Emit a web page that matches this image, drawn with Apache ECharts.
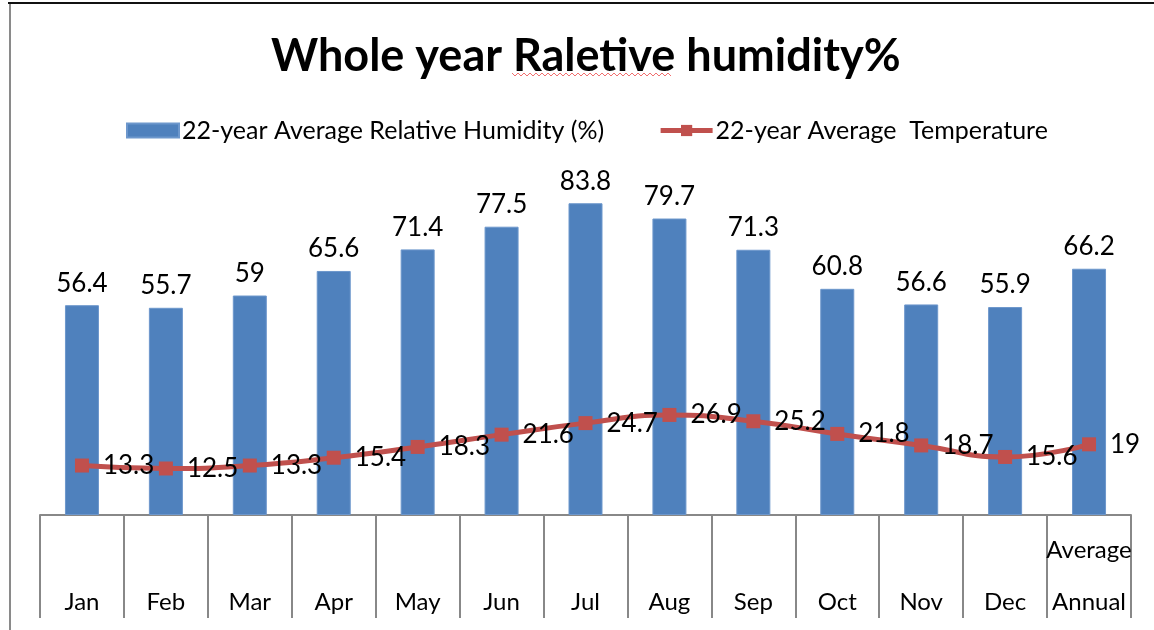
<!DOCTYPE html>
<html>
<head>
<meta charset="utf-8">
<script src="https://cdn.jsdelivr.net/npm/echarts@6/dist/echarts.min.js"></script>
<style>
  html, body { margin: 0; padding: 0; background: #fff; }
  #chart { width: 1154px; height: 630px; }
</style>
</head>
<body>
<div id="chart"></div>
<script>
var months = ['Jan', 'Feb', 'Mar', 'Apr', 'May', 'Jun', 'Jul', 'Aug', 'Sep', 'Oct', 'Nov', 'Dec', 'Average\nAnnual'];
var humidity = [56.4, 55.7, 59, 65.6, 71.4, 77.5, 83.8, 79.7, 71.3, 60.8, 56.6, 55.9, 66.2];
var temperature = [13.3, 12.5, 13.3, 15.4, 18.3, 21.6, 24.7, 26.9, 25.2, 21.8, 18.7, 15.6, 19];

var font = 'Lato, "Open Sans", sans-serif';

// wavy spell-check underline under "Raletive"
var wave = [];
for (var x = 512; x <= 671; x += 3) {
  wave.push([x, (x - 512) % 6 === 0 ? 73 : 76]);
}

var chart = echarts.init(document.getElementById('chart'));
chart.setOption({
  animation: false,
  title: {
    text: 'Whole year Raletive humidity%',
    left: 266,
    top: 29,
    textStyle: { fontFamily: font, fontSize: 45, fontWeight: 'bold', color: '#000' }
  },
  legend: {
    top: 113,
    left: 121,
    itemWidth: 52,
    itemHeight: 14,
    itemGap: 54,
    textStyle: { fontFamily: font, fontSize: 25, color: '#000', padding: [0, 0, 0, -2] },
    data: [
      { name: '22-year Average Relative Humidity (%)', icon: 'rect' },
      { name: '22-year Average  Temperature', lineStyle: { width: 5 } }
    ]
  },
  grid: { left: 40, right: 23, top: 143, bottom: 115 },
  xAxis: {
    type: 'category',
    data: months,
    boundaryGap: true,
    axisLine: { lineStyle: { color: '#888', width: 2 } },
    axisTick: { show: true, interval: 0, length: 103, lineStyle: { color: '#888', width: 2 } },
    axisLabel: {
      interval: 0,
      margin: 113,
      verticalAlign: 'bottom',
      lineHeight: 52,
      fontFamily: font,
      fontSize: 24,
      color: '#000'
    }
  },
  yAxis: {
    type: 'value',
    min: 0,
    max: 100,
    show: false,
    splitLine: { show: false }
  },
  graphic: [
    { type: 'line', shape: { x1: 8, y1: 3, x2: 1154, y2: 3 }, style: { stroke: '#111', lineWidth: 2 } },
    { type: 'line', shape: { x1: 10, y1: 4, x2: 10, y2: 630 }, style: { stroke: '#8a8a8a', lineWidth: 2 } },
    { type: 'polyline', shape: { points: wave }, style: { stroke: '#f07070', lineWidth: 1, fill: null } }
  ],
  series: [
    {
      name: '22-year Average Relative Humidity (%)',
      type: 'bar',
      data: humidity,
      barWidth: 34,
      itemStyle: { color: '#4F81BD', borderColor: '#6d97cc', borderWidth: 1 },
      label: {
        show: true,
        position: 'top',
        distance: 9,
        fontFamily: font,
        fontSize: 26,
        color: '#000'
      }
    },
    {
      name: '22-year Average  Temperature',
      type: 'line',
      data: temperature,
      smooth: true,
      symbol: 'rect',
      symbolSize: 14,
      z: 5,
      lineStyle: { color: '#C0504D', width: 5 },
      itemStyle: { color: '#C0504D' },
      label: {
        show: true,
        position: 'right',
        distance: 14,
        fontFamily: font,
        fontSize: 26,
        color: '#000'
      }
    }
  ]
});
</script>
</body>
</html>
